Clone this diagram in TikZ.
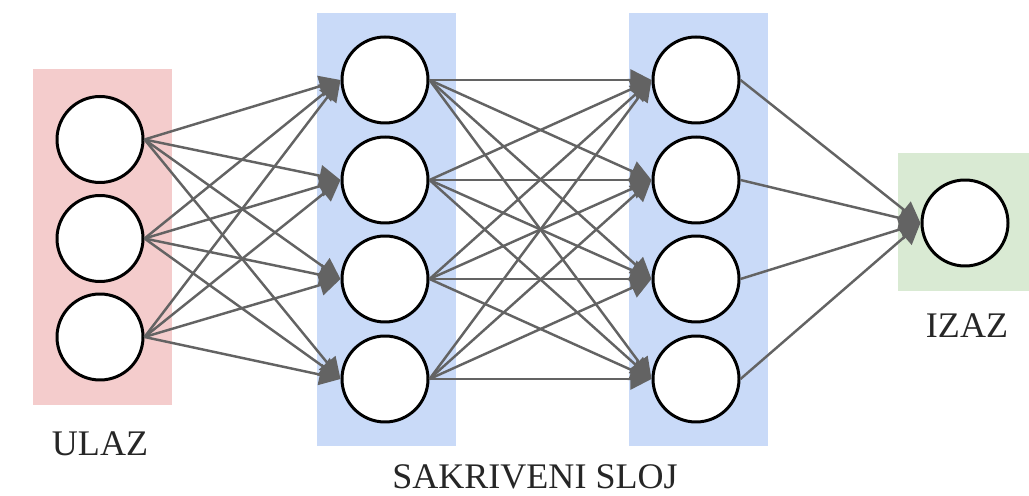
\documentclass[tikz,border=0pt]{standalone}
\usepackage{fontspec}
\setmainfont{Liberation Serif}
\usetikzlibrary{arrows.meta}
\definecolor{inpink}{HTML}{F4CCCC}
\definecolor{hidblue}{HTML}{C9DAF8}
\definecolor{outgreen}{HTML}{D9EAD3}
\definecolor{wire}{HTML}{636363}
\begin{document}
\begin{tikzpicture}[
  neuron/.style={circle, draw, line width=1.7pt, fill=white, minimum size=1.72cm, inner sep=0pt},
  link/.style={draw=wire, line width=1.4pt, -{Triangle[length=12pt,width=12pt]}},
  layertext/.style={font=\fontsize{20.5}{24}\selectfont, text=black!85}]
\useasboundingbox (0,0) rectangle (20.58,9.9);
% layer backgrounds
\fill[inpink] (0.66,1.8) rectangle (3.44,8.52);
\fill[hidblue] (6.34,0.98) rectangle (9.12,9.64);
\fill[hidblue] (12.58,0.98) rectangle (15.36,9.64);
\fill[outgreen] (17.96,4.08) rectangle (20.58,6.84);
% neurons
\node[neuron] (u1) at (2.0,7.11) {};
\node[neuron] (u2) at (2.0,5.13) {};
\node[neuron] (u3) at (2.0,3.16) {};
\foreach \y [count=\i] in {8.3,6.3,4.32,2.32} {
  \node[neuron] (a\i) at (7.7,\y) {};
  \node[neuron] (b\i) at (13.92,\y) {};
}
\node[neuron] (o) at (19.3,5.44) {};
% weights
\foreach \i in {1,2,3}
  \foreach \j in {1,...,4}
    \draw[link] (u\i.east) -- (a\j.west);
\foreach \i in {1,...,4} {
  \foreach \j in {1,...,4}
    \draw[link] (a\i.east) -- (b\j.west);
  \draw[link] (b\i.east) -- (o.west);
}
% layer names
\node[layertext] (ulaz) at (2.0,1.02) {ULAZ};
\node[layertext] (sakriveni) at (10.7,0.36) {SAKRIVENI SLOJ};
\node[layertext] (izaz) at (19.34,3.38) {IZAZ};
\end{tikzpicture}
\end{document}
